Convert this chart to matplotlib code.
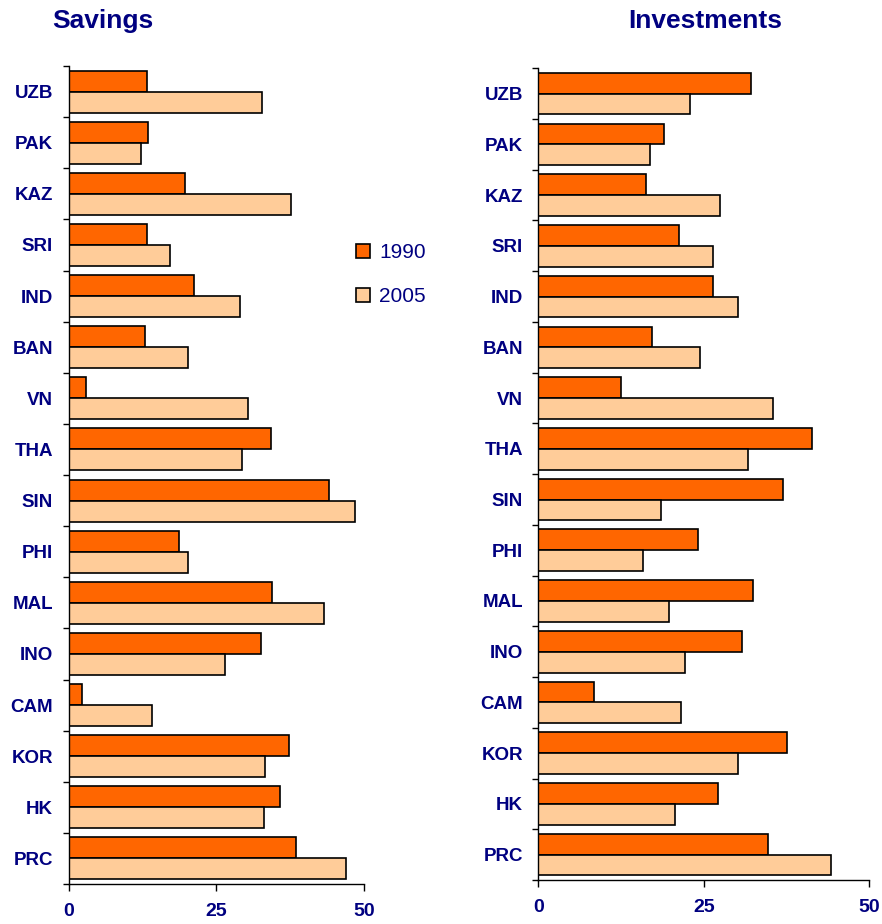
import matplotlib
matplotlib.use("Agg")
import matplotlib.pyplot as plt
import numpy as np

categories = ["PRC", "HK", "KOR", "CAM", "INO", "MAL", "PHI", "SIN",
              "THA", "VN", "BAN", "IND", "SRI", "KAZ", "PAK", "UZB"]
savings_1990 = [38.5, 35.8, 37.3, 2.3, 32.5, 34.5, 18.7, 44.0,
                34.2, 2.9, 13.0, 21.3, 13.2, 19.7, 13.5, 13.2]
savings_2005 = [47.0, 33.0, 33.2, 14.1, 26.5, 43.3, 20.3, 48.5,
                29.4, 30.3, 20.3, 29.0, 17.2, 37.6, 12.2, 32.7]
invest_1990 = [34.7, 27.1, 37.5, 8.4, 30.8, 32.4, 24.1, 37.0,
               41.4, 12.5, 17.1, 26.4, 21.3, 16.2, 19.0, 32.2]
invest_2005 = [44.2, 20.6, 30.1, 21.6, 22.2, 19.7, 15.8, 18.5,
               31.7, 35.4, 24.5, 30.1, 26.4, 27.5, 16.9, 22.9]
series_labels = ["1990", "2005"]
x_ticks = [0, 25, 50]

plt.rcParams['font.family'] = ['Liberation Sans', 'DejaVu Sans']
NAVY = "#000080"
C1990 = "#FF6600"
C2005 = "#FFCC99"

fig = plt.figure(figsize=(8.82, 9.24), dpi=100)
ax1 = fig.add_axes([68.5/882, 1-884/924, (364-68.5)/882, (884-66)/924])
ax2 = fig.add_axes([538.3/882, 1-880/924, (869.3-538.3)/882, (880-68.3)/924])

y = np.arange(len(categories))
h = 0.41
handles = None
for ax, v1, v2 in [(ax1, savings_1990, savings_2005), (ax2, invest_1990, invest_2005)]:
    b1 = ax.barh(y + h/2, v1, height=h, color=C1990, edgecolor="black", linewidth=1.2,
                 label=series_labels[0])
    b2 = ax.barh(y - h/2, v2, height=h, color=C2005, edgecolor="black", linewidth=1.2,
                 label=series_labels[1])
    handles = [b1, b2]
    ax.set_xlim(0, 50)
    ax.set_ylim(-0.5, len(categories) - 0.5)
    ax.spines['top'].set_visible(False)
    ax.spines['right'].set_visible(False)
    ax.spines['left'].set_linewidth(1.0)
    ax.spines['bottom'].set_linewidth(1.0)
    ax.set_xticks(x_ticks)
    ax.set_xticklabels([str(t) for t in x_ticks], fontsize=14, fontweight="bold", color=NAVY)
    ax.tick_params(axis='x', direction='out', length=5, width=1, pad=9)
    ax.set_yticks(np.arange(-0.5, len(categories), 1.0))
    ax.set_yticklabels([])
    ax.tick_params(axis='y', which='major', direction='out', length=4.5, width=1)
    ax.set_yticks(y, minor=True)
    ax.set_yticklabels(categories, minor=True, fontsize=13.5, fontweight="bold", color=NAVY)
    ax.tick_params(axis='y', which='minor', length=0, pad=11)

fig.text(52/882, 1-21/924, "Savings", fontsize=19, fontweight="bold", color=NAVY,
         ha="left", va="center")
fig.text(705/882, 1-21/924, "Investments", fontsize=19, fontweight="bold", color=NAVY,
         ha="center", va="center")

leg = fig.legend(handles, series_labels, loc="upper left",
                 bbox_to_anchor=(356/882, 1-243/924), frameon=False,
                 borderpad=0, borderaxespad=0, handlelength=0.65, handleheight=0.65,
                 handletextpad=0.45, labelspacing=1.2, fontsize=15)
for t in leg.get_texts():
    t.set_color(NAVY)

fig.savefig("out.png", dpi=100)
